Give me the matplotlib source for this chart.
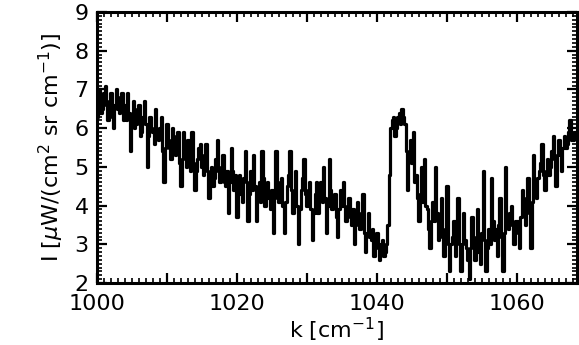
import numpy as np
import matplotlib
matplotlib.use("Agg")
import matplotlib.pyplot as plt
from matplotlib.ticker import MultipleLocator, FixedLocator, FixedFormatter

# Spectral sampling: 0.2 cm^-1 grid starting at 1000 cm^-1
k_start = 1000.0
k_step = 0.2

# Measured intensity I [uW/(cm^2 sr cm^-1)] on that grid
intensity = [
    6.3, 6.8, 7.0, 6.4, 6.5, 6.9, 7.1, 6.6, 6.2, 6.7, 6.9, 6.3, 6.0, 6.6, 7.0, 6.5, 6.4, 6.8, 6.9, 6.2,
    6.6, 6.2, 6.9, 6.4, 5.4, 6.1, 6.7, 6.0, 6.1, 6.5, 6.6, 5.8, 5.9, 6.3, 6.7, 6.1, 5.0, 5.8, 6.3, 6.0,
    5.9, 5.6, 6.5, 5.9, 5.7, 6.0, 6.3, 5.4, 4.6, 5.5, 6.1, 5.7, 5.5, 5.2, 6.0, 5.6, 5.3, 5.8, 5.9, 5.1,
    4.5, 5.2, 5.9, 5.3, 5.0, 5.7, 5.4, 4.9, 5.9, 5.1, 4.4, 4.9, 5.2, 5.5, 5.6, 5.0, 4.8, 5.3, 5.6, 4.9,
    4.2, 4.8, 5.0, 4.5, 4.7, 5.2, 5.7, 4.9, 4.6, 5.0, 5.3, 4.6, 4.5, 4.9, 3.8, 4.6, 5.5, 4.9, 4.4, 4.8,
    3.7, 4.4, 4.8, 4.3, 4.1, 4.7, 5.4, 4.6, 3.6, 4.3, 4.9, 4.4, 5.3, 4.5, 3.6, 4.2, 4.6, 4.1, 5.4, 4.7,
    4.0, 4.5, 4.6, 4.2, 3.9, 4.4, 3.3, 4.2, 5.4, 4.6, 4.1, 4.5, 4.7, 4.0, 3.3, 4.1, 4.5, 4.8, 5.4, 4.4,
    3.8, 4.3, 4.9, 4.0, 3.0, 3.9, 4.4, 4.7, 5.2, 4.3, 4.0, 4.4, 4.6, 3.9, 3.1, 3.8, 4.3, 4.6, 3.8, 4.2,
    4.6, 4.1, 5.0, 4.2, 3.3, 4.0, 5.2, 4.4, 3.9, 4.1, 4.3, 3.7, 3.2, 3.9, 4.4, 4.0, 4.6, 4.0, 3.6, 3.9,
    4.2, 3.7, 3.5, 3.9, 3.0, 3.6, 4.1, 3.5, 3.4, 3.8, 4.3, 3.3, 2.8, 3.3, 3.8, 3.2, 3.1, 3.4, 2.7, 3.2,
    3.3, 2.9, 2.6, 3.0, 3.1, 2.7, 2.8, 3.0, 3.5, 4.8, 6.0, 6.2, 6.3, 5.8, 6.0, 6.3, 6.4, 6.1, 6.5, 6.3,
    6.1, 5.4, 4.4, 5.2, 5.7, 5.1, 5.9, 4.6, 4.8, 4.2, 3.6, 4.3, 5.0, 4.1, 5.2, 4.0, 3.9, 3.4, 2.9, 3.6,
    4.1, 3.6, 5.0, 3.8, 3.1, 3.5, 4.2, 3.2, 2.7, 3.4, 4.5, 3.0, 2.3, 3.0, 3.2, 3.6, 2.7, 3.1, 4.2, 3.0,
    2.3, 3.0, 3.8, 3.1, 2.9, 2.6, 2.1, 2.9, 3.7, 3.0, 2.6, 3.2, 3.9, 2.8, 2.5, 3.3, 4.9, 3.1, 2.3, 2.9,
    3.4, 3.0, 4.7, 3.6, 3.1, 3.4, 2.7, 3.5, 4.2, 3.2, 2.3, 3.3, 5.0, 3.7, 3.4, 3.8, 4.0, 3.5, 3.0, 3.6,
    3.6, 3.3, 2.9, 3.7, 4.4, 3.9, 3.5, 4.2, 4.7, 3.8, 2.9, 4.1, 5.3, 4.6, 4.2, 4.7, 4.9, 5.1, 5.6, 4.8,
    4.4, 4.9, 5.2, 4.8, 5.0, 5.4, 5.8, 5.2, 4.5, 5.3, 5.7, 5.3, 4.9, 5.5, 5.8, 5.5, 5.6, 5.9, 6.2, 5.7,
    5.7, 5.9, 5.9, 5.8,
]
wavenumber = k_start + k_step * np.arange(len(intensity))

x_limits = (1000, 1068.6)
y_limits = (2, 9)
x_major = [1000, 1010, 1020, 1030, 1040, 1050, 1060]
x_labels = ["1000", "", "1020", "", "1040", "", "1060"]
y_major = [2, 3, 4, 5, 6, 7, 8, 9]
y_labels = ["2", "3", "4", "5", "6", "7", "8", "9"]

plt.rcParams["font.family"] = ["DejaVu Sans"]
plt.rcParams["mathtext.fontset"] = "dejavusans"

fig = plt.figure(figsize=(5.79, 3.45), dpi=100)
ax = fig.add_axes([97 / 579, 1 - 283 / 345, 480 / 579, 271 / 345])

ax.plot(wavenumber, intensity, drawstyle="steps-mid", color="black", lw=2.3)

ax.set_xlim(*x_limits)
ax.set_ylim(*y_limits)

ax.xaxis.set_major_locator(FixedLocator(x_major))
ax.xaxis.set_major_formatter(FixedFormatter(x_labels))
ax.xaxis.set_minor_locator(MultipleLocator(1))
ax.yaxis.set_major_locator(FixedLocator(y_major))
ax.yaxis.set_major_formatter(FixedFormatter(y_labels))
ax.yaxis.set_minor_locator(MultipleLocator(0.1))

ax.tick_params(which="both", direction="in", top=True, right=True,
               color="black")
ax.tick_params(which="major", length=7, width=1.6, labelsize=16, pad=6)
ax.tick_params(which="minor", length=3.5, width=1.2)
ax.tick_params(axis="x", which="major", pad=8)

for side in ax.spines.values():
    side.set_linewidth(2.2)

ax.set_xlabel(r"k [cm$^{-1}$]", fontsize=16, labelpad=1)
ax.set_ylabel(r"I [$\mu$W/(cm$^{2}$ sr cm$^{-1}$)]", fontsize=16, labelpad=6)

fig.savefig("out.png", dpi=100)
